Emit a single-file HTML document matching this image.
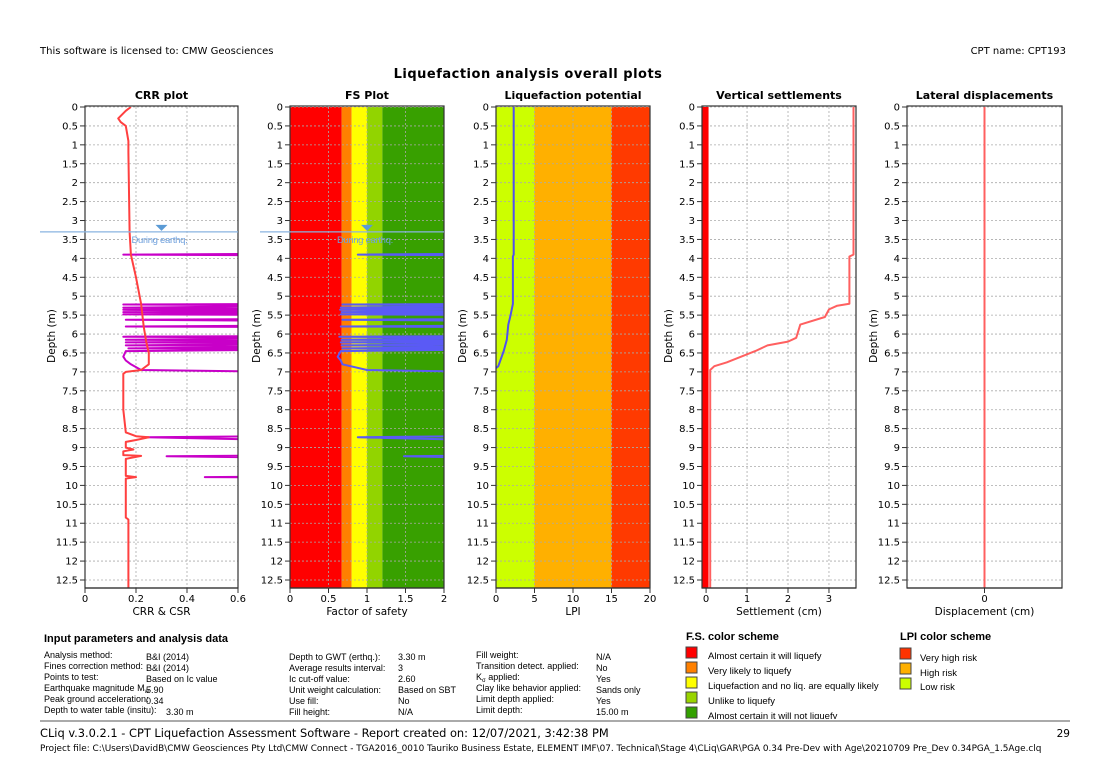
<!DOCTYPE html>
<html><head><meta charset="utf-8"><style>
body{margin:0;background:#fff;width:1107px;height:783px;overflow:hidden;font-family:"DejaVu Sans","Liberation Sans",sans-serif;}
svg{position:absolute;left:0;top:0}
.p{font-family:"Liberation Sans",sans-serif;}
</style></head><body>
<svg id="s" width="1107" height="783" viewBox="0 0 1107 783" xmlns="http://www.w3.org/2000/svg">
<text x="40" y="54" font-size="10">This software is licensed to: CMW Geosciences</text>
<text x="1066" y="54" font-size="10" text-anchor="end">CPT name: CPT193</text>
<text x="528" y="78" font-size="13" font-weight="bold" letter-spacing="0.5" text-anchor="middle">Liquefaction analysis overall plots</text>
<g id="plots"></g>
<g font-size="9" class="p">
<text x="44" y="642" font-size="11" font-weight="bold">Input parameters and analysis data</text>
<text x="44" y="658">Analysis method:</text><text x="146" y="660">B&amp;I (2014)</text>
<text x="44" y="669">Fines correction method:</text><text x="146" y="671">B&amp;I (2014)</text>
<text x="44" y="680">Points to test:</text><text x="146" y="682">Based on Ic value</text>
<text x="44" y="691">Earthquake magnitude M<tspan font-size="6" dy="2">w</tspan><tspan dy="-2">:</tspan></text><text x="146" y="693">5.90</text>
<text x="44" y="702">Peak ground acceleration:</text><text x="146" y="704">0.34</text>
<text x="44" y="713">Depth to water table (insitu):</text><text x="166" y="715">3.30 m</text>
<text x="289" y="660">Depth to GWT (erthq.):</text><text x="398" y="660">3.30 m</text>
<text x="289" y="671">Average results interval:</text><text x="398" y="671">3</text>
<text x="289" y="682">Ic cut-off value:</text><text x="398" y="682">2.60</text>
<text x="289" y="693">Unit weight calculation:</text><text x="398" y="693">Based on SBT</text>
<text x="289" y="704">Use fill:</text><text x="398" y="704">No</text>
<text x="289" y="715">Fill height:</text><text x="398" y="715">N/A</text>
<text x="476" y="658">Fill weight:</text><text x="596" y="660">N/A</text>
<text x="476" y="669">Transition detect. applied:</text><text x="596" y="671">No</text>
<text x="476" y="680">K<tspan font-size="6" dy="2">σ</tspan><tspan dy="-2"> applied:</tspan></text><text x="596" y="682">Yes</text>
<text x="476" y="691">Clay like behavior applied:</text><text x="596" y="693">Sands only</text>
<text x="476" y="702">Limit depth applied:</text><text x="596" y="704">Yes</text>
<text x="476" y="713">Limit depth:</text><text x="596" y="715">15.00 m</text>
</g>
<g font-size="9.5" class="p">
<text x="686" y="640" font-size="11" font-weight="bold">F.S. color scheme</text>
<rect x="686" y="647" width="11" height="11" fill="#ff0000" stroke="#444"/><text x="708" y="659">Almost certain it will liquefy</text>
<rect x="686" y="662" width="11" height="11" fill="#ff8000" stroke="#444"/><text x="708" y="674">Very likely to liquefy</text>
<rect x="686" y="677" width="11" height="11" fill="#ffff00" stroke="#444"/><text x="708" y="689">Liquefaction and no liq. are equally likely</text>
<rect x="686" y="692" width="11" height="11" fill="#99d400" stroke="#444"/><text x="708" y="704">Unlike to liquefy</text>
<rect x="686" y="707" width="11" height="11" fill="#33a000" stroke="#444"/><text x="708" y="719">Almost certain it will not liquefy</text>
</g>
<g font-size="9.5" class="p">
<text x="900" y="640" font-size="11" font-weight="bold">LPI color scheme</text>
<rect x="900" y="648" width="11" height="11" fill="#ff3300" stroke="#444"/><text x="920" y="661">Very high risk</text>
<rect x="900" y="663" width="11" height="11" fill="#ffb000" stroke="#444"/><text x="920" y="676">High risk</text>
<rect x="900" y="678" width="11" height="11" fill="#ccff00" stroke="#444"/><text x="920" y="690">Low risk</text>
</g>
<rect x="0" y="719" width="1107" height="4" fill="#fff"/>
<line x1="40" y1="721" x2="1070" y2="721" stroke="#555" stroke-width="1"/>
<text x="40" y="737" font-size="11.4">CLiq v.3.0.2.1 - CPT Liquefaction Assessment Software - Report created on: 12/07/2021, 3:42:38 PM</text>
<text x="1070" y="737" font-size="10.5" text-anchor="end">29</text>
<text x="40" y="751" font-size="8.9">Project file: C:\Users\DavidB\CMW Geosciences Pty Ltd\CMW Connect - TGA2016_0010 Tauriko Business Estate, ELEMENT IMF\07. Technical\Stage 4\CLiq\GAR\PGA 0.34 Pre-Dev with Age\20210709 Pre_Dev 0.34PGA_1.5Age.clq</text>
</svg>
<script>
// ---- data ----
const depthTicks=[0,0.5,1,1.5,2,2.5,3,3.5,4,4.5,5,5.5,6,6.5,7,7.5,8,8.5,9,9.5,10,10.5,11,11.5,12,12.5];
const crrTicks=[0,0.2,0.4,0.6];
const fsTicks=[0,0.5,1,1.5,2];
const lpiTicks=[0,5,10,15,20];
const setTicks=[0,1,2,3];
const latTicks=[0];
const crrDepth=[0,0.1,0.3,0.4,0.5,0.9,1.2,3.3,3.9,4.5,5.2,5.8,6.2,6.5,6.8,6.95,7.0,7.05,8,8.6,8.7,8.73,8.8,8.85,9.0,9.05,9.1,9.2,9.22,9.3,9.75,9.78,9.82,10.85,10.9,12.7];
const crrVal=[0.18,0.16,0.13,0.14,0.16,0.17,0.17,0.175,0.18,0.2,0.22,0.23,0.24,0.25,0.25,0.22,0.16,0.15,0.15,0.16,0.2,0.25,0.2,0.16,0.16,0.19,0.15,0.15,0.22,0.16,0.16,0.2,0.16,0.16,0.17,0.17];
const csrDepth=[3.87,3.9,3.93,5.2,5.22,5.25,5.3,5.33,5.36,5.4,5.42,5.46,5.48,5.5,5.6,5.62,5.66,5.77,5.8,5.82,6.05,6.07,6.1,6.15,6.18,6.22,6.25,6.3,6.33,6.38,6.4,6.45,6.6,6.7,6.8,6.95,7.02,8.68,8.73,8.83,9.2,9.23,9.28,9.76,9.78,9.8];
const csrVal=[1,0.15,1,1,0.15,1,0.15,1,0.15,1,0.15,1,0.15,1,1,0.16,1,1,0.16,1,1,0.15,1,0.16,1,0.16,1,0.16,1,0.17,1,0.16,0.15,0.16,0.18,0.22,1,1,0.24,1,1,0.32,1,1,0.47,1];
const fsDepth=[3.87,3.9,3.93,5.2,5.22,5.25,5.3,5.33,5.36,5.4,5.42,5.46,5.48,5.5,5.6,5.62,5.66,5.77,5.8,5.82,6.05,6.07,6.1,6.15,6.18,6.22,6.25,6.3,6.33,6.38,6.4,6.45,6.6,6.7,6.8,6.95,7.02,8.68,8.73,8.83,9.2,9.23,9.28];
const fsVal=[3,0.88,3,3,0.68,3,0.66,3,0.65,3,0.67,3,0.66,3,3,0.68,3,3,0.66,3,3,0.64,3,0.67,3,0.66,3,0.67,3,0.68,3,0.66,0.62,0.66,0.68,1.0,3,3,0.88,3,3,1.48,3];
const lpiDepth=[0,3.9,3.95,5.2,5.5,5.75,6.15,6.45,6.85,6.9];
const lpiVal=[2.3,2.3,2.2,2.2,1.9,1.6,1.4,1.0,0.3,0];
const setDepth=[0,3.9,3.95,5.2,5.25,5.35,5.55,5.75,6.1,6.2,6.3,6.45,6.75,6.85,6.95,7.1,12.7];
const setVal=[3.6,3.6,3.5,3.5,3.2,3.0,2.9,2.3,2.2,2.0,1.5,1.2,0.5,0.2,0.1,0.1,0.1];
const latDepth=[0,12.7];
const latVal=[0,0];
const fsZones=[[0,0.67,'#ff0000'],[0.67,0.8,'#ff8000'],[0.8,1.0,'#ffff00'],[1.0,1.2,'#92d400'],[1.2,2,'#38a000']];
const lpiZones=[[0,5,'#ccff00'],[5,15,'#ffb000'],[15,20,'#ff3a00']];

const NS='http://www.w3.org/2000/svg';
const g=document.getElementById('plots');
const top0=107,pxm=37.84,bot=588;
const yS=d=>top0+d*pxm;
function el(tag,at,parent){const e=document.createElementNS(NS,tag);for(const k in at)e.setAttribute(k,at[k]);(parent||g).appendChild(e);return e;}
function txt(x,y,s,at,parent){const t=el('text',Object.assign({x:x,y:y,'font-size':10},at||{}),parent);t.textContent=s;return t;}
function panel(id,name,title,x0,x1,xmin,xmax,ticks,xlabel){
  const P=el('g',{id:id});
  
  
  const xS=v=>x0+(v-xmin)/(xmax-xmin)*(x1-x0);
  const t=txt((x0+x1)/2,99,title,{'text-anchor':'middle','font-weight':'bold','font-size':11},P);
  
  
  const cp=el('clipPath',{id:id+'c'},P);el('rect',{x:x0,y:top0,width:x1-x0,height:bot-top0},cp);
  const bg=el('g',{'clip-path':'url(#'+id+'c)'},P);
  const grid=el('g',{},P);const fg=el('g',{'clip-path':'url(#'+id+'c)'},P);
  el('rect',{x:x0,y:top0-1,width:x1-x0,height:bot-top0+1,fill:'none',stroke:'#333','stroke-width':1.2},P);
  depthTicks.forEach(d=>{const y=yS(d);
    el('line',{x1:x0,x2:x1,y1:y,y2:y,stroke:'#aaa','stroke-dasharray':'2,2','stroke-width':0.8},grid);
    el('line',{x1:x0-5,x2:x0,y1:y,y2:y,stroke:'#333'},P);
    const l=txt(x0-7,y+3.5,String(d),{'text-anchor':'end'},P);
    
    });
  ticks.forEach(v=>{const x=xS(v);
    el('line',{x1:x,x2:x,y1:top0,y2:bot,stroke:'#aaa','stroke-dasharray':'2,2','stroke-width':0.8},grid);
    el('line',{x1:x,x2:x,y1:bot,y2:bot+5,stroke:'#333'},P);
    const l=txt(x,bot+14,String(v),{'text-anchor':'middle'},P);
    
    });
  el('line',{x1:x0,x2:x1,y1:bot,y2:bot,stroke:'#333','stroke-width':1.2},P);
  const xl=txt((x0+x1)/2,bot+27,xlabel,{'text-anchor':'middle','font-size':10.5},P);
  
  
  const yl=txt(0,0,'Depth (m)',{'text-anchor':'middle','font-size':10.5,transform:'translate('+(x0-30)+',336) rotate(-90)'},P);
  
  
  return {xS:xS,bg:bg,fg:fg,P:P,x0:x0,x1:x1};
}
function line(p,xs,ds,color,w,name){
  const pts=xs.map((v,i)=>p.xS(v).toFixed(1)+','+yS(ds[i]).toFixed(1)).join(' ');
  const e=el('polyline',{points:pts,fill:'none',stroke:color,'stroke-width':w,'stroke-linejoin':'round'},p.fg);
  
  
}
function zones(p,zs,name){zs.forEach(z=>{const r=el('rect',{x:p.xS(z[0]),y:top0,width:p.xS(z[1])-p.xS(z[0]),height:bot-top0,fill:z[2]},p.bg);
  
  });}
function gwt(p,v,lx){
  const y=yS(3.3);
  const l=el('line',{x1:lx,x2:p.x1,y1:y,y2:y,stroke:'#8ab4e0','stroke-width':1.2},p.P);
  
  
  const x=p.xS(v);
  el('path',{d:'M'+(x-6)+','+(y-7)+' L'+(x+6)+','+(y-7)+' L'+x+','+(y-1)+'Z',fill:'#5b9bd5'},p.P);
  const t=txt(x-2,y+11,'During earthq.',{'text-anchor':'middle','font-size':9.5,fill:'#6fa0dc',class:'p','letter-spacing':'-0.3'},p.P);
  
  
}
const crr=panel('crr','crr-plot','CRR plot',85,238,0,0.6,crrTicks,'CRR & CSR');
const fs=panel('fs','fs-plot','FS Plot',290,444,0,2,fsTicks,'Factor of safety');
const lpi=panel('lpi','lpi-plot','Liquefaction potential',496,650,0,20,lpiTicks,'LPI');
const st=panel('set','settlement-plot','Vertical settlements',702,856,-0.1,3.66,setTicks,'Settlement (cm)');
const lat=panel('lat','lateral-plot','Lateral displacements',907,1062,-1,1,latTicks,'Displacement (cm)');
zones(fs,fsZones,'fs-zone');
zones(lpi,lpiZones,'lpi-zone');
line(crr,csrVal,csrDepth,'#c800c8',2,'csr-line');
line(crr,crrVal,crrDepth,'#ff4040',2,'crr-line');
gwt(crr,0.3,40);
line(fs,fsVal,fsDepth,'#5a5af5',2,'fs-line');
gwt(fs,1.0,260);
line(lpi,lpiVal,lpiDepth,'#5050f0',2,'lpi-line');
const bar=el('rect',{x:st.xS(-0.1),y:top0,width:st.xS(0.06)-st.xS(-0.1),height:bot-top0,fill:'#ff0000'},st.fg);


line(st,setVal,setDepth,'#ff6060',2,'settlement-line');
line(lat,latVal,latDepth,'#ff6060',2,'lateral-line');
</script>
</body></html>
